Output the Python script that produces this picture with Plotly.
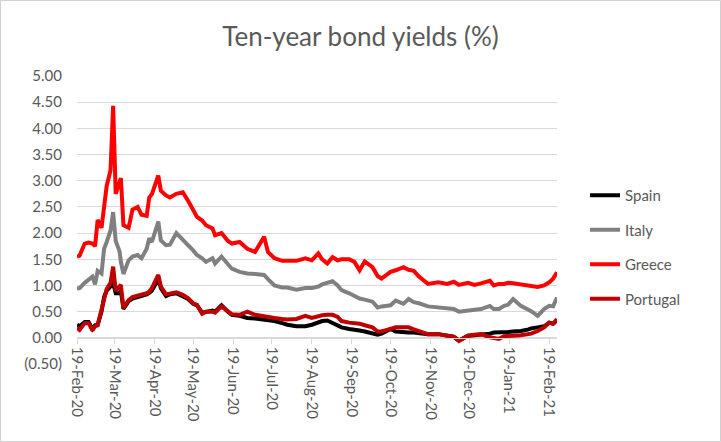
import plotly.graph_objects as go

dates = [
    "2020-02-19", "2020-02-21", "2020-02-25", "2020-02-28", "2020-03-02", "2020-03-04",
    "2020-03-06", "2020-03-09", "2020-03-11", "2020-03-13", "2020-03-16", "2020-03-18",
    "2020-03-20", "2020-03-23", "2020-03-24", "2020-03-26", "2020-03-30", "2020-04-02",
    "2020-04-06", "2020-04-09", "2020-04-13", "2020-04-15", "2020-04-17", "2020-04-22",
    "2020-04-24", "2020-04-28", "2020-05-01", "2020-05-06", "2020-05-11", "2020-05-15",
    "2020-05-19", "2020-05-22", "2020-05-26", "2020-05-29", "2020-06-03", "2020-06-05",
    "2020-06-10", "2020-06-15", "2020-06-18", "2020-06-24", "2020-06-30", "2020-07-06",
    "2020-07-13", "2020-07-16", "2020-07-21", "2020-07-27", "2020-07-31", "2020-08-07",
    "2020-08-14", "2020-08-19", "2020-08-24", "2020-08-27", "2020-08-31", "2020-09-04",
    "2020-09-08", "2020-09-11", "2020-09-17", "2020-09-21", "2020-09-25", "2020-09-29",
    "2020-10-05", "2020-10-09", "2020-10-12", "2020-10-19", "2020-10-23", "2020-10-29",
    "2020-11-02", "2020-11-06", "2020-11-10", "2020-11-17", "2020-11-25", "2020-12-02",
    "2020-12-07", "2020-12-11", "2020-12-18", "2020-12-23", "2020-12-28", "2021-01-04",
    "2021-01-07", "2021-01-11", "2021-01-15", "2021-01-18", "2021-01-22", "2021-01-28",
    "2021-02-03", "2021-02-05", "2021-02-10", "2021-02-15", "2021-02-19", "2021-02-22",
    "2021-02-25",
]

greece = [
    1.55, 1.57, 1.80, 1.82, 1.80, 1.75,
    2.25, 2.10, 2.50, 2.90, 3.20, 4.43,
    2.75, 2.95, 3.05, 2.15, 2.10, 2.45,
    2.50, 2.35, 2.33, 2.68, 2.74, 3.10,
    2.81, 2.72, 2.68, 2.75, 2.78, 2.62,
    2.45, 2.31, 2.24, 2.15, 2.09, 1.96,
    2.00, 1.85, 1.80, 1.83, 1.70, 1.64,
    1.93, 1.64, 1.52, 1.47, 1.47, 1.47,
    1.52, 1.48, 1.61, 1.50, 1.42, 1.54,
    1.48, 1.50, 1.50, 1.45, 1.29, 1.46,
    1.35, 1.18, 1.13, 1.26, 1.29, 1.35,
    1.30, 1.28, 1.17, 1.03, 1.06, 1.03,
    1.07, 1.01, 1.05, 1.01, 1.04, 1.09,
    1.00, 1.03, 1.03, 1.05, 1.04, 1.02,
    1.00, 0.98, 0.97, 1.00, 1.06, 1.13,
    1.25,
]

italy = [
    0.94, 0.95, 1.05, 1.10, 1.17, 1.02,
    1.28, 1.23, 1.70, 1.83, 2.05, 2.40,
    1.85, 1.65, 1.45, 1.22, 1.48, 1.55,
    1.58, 1.52, 1.70, 1.90, 1.83, 2.22,
    1.86, 1.77, 1.78, 2.00, 1.86, 1.77,
    1.67, 1.58, 1.52, 1.45, 1.52, 1.42,
    1.55, 1.42, 1.32, 1.26, 1.23, 1.22,
    1.20, 1.12, 1.00, 0.96, 0.96, 0.92,
    0.95, 0.95, 0.98, 1.02, 1.05, 1.08,
    1.00, 0.91, 0.85, 0.80, 0.75, 0.73,
    0.69, 0.58, 0.60, 0.62, 0.71, 0.65,
    0.74, 0.68, 0.66, 0.60, 0.58, 0.58,
    0.55, 0.50, 0.52, 0.55, 0.55, 0.61,
    0.55, 0.55, 0.61, 0.63, 0.74, 0.61,
    0.53, 0.51, 0.42, 0.55, 0.61, 0.60,
    0.77,
]

spain = [
    0.25, 0.22, 0.30, 0.30, 0.17, 0.24,
    0.25, 0.50, 0.78, 0.90, 0.98, 1.05,
    0.85, 0.85, 0.90, 0.55, 0.70, 0.75,
    0.78, 0.80, 0.83, 0.86, 0.90, 1.12,
    0.95, 0.80, 0.83, 0.85, 0.80, 0.74,
    0.65, 0.62, 0.48, 0.50, 0.52, 0.50,
    0.62, 0.50, 0.44, 0.42, 0.38, 0.37,
    0.35, 0.35, 0.32, 0.28, 0.25, 0.22,
    0.22, 0.25, 0.30, 0.32, 0.33, 0.28,
    0.24, 0.20, 0.17, 0.16, 0.14, 0.12,
    0.08, 0.06, 0.08, 0.17, 0.12, 0.10,
    0.10, 0.10, 0.09, 0.07, 0.07, 0.05,
    0.02, -0.05, 0.04, 0.05, 0.06, 0.08,
    0.10, 0.10, 0.10, 0.11, 0.12, 0.13,
    0.16, 0.18, 0.20, 0.22, 0.29, 0.27,
    0.33,
]

portugal = [
    0.19, 0.15, 0.28, 0.28, 0.14, 0.22,
    0.24, 0.55, 0.80, 0.93, 1.05, 1.36,
    0.90, 0.97, 1.01, 0.57, 0.72, 0.78,
    0.80, 0.82, 0.85, 0.88, 0.95, 1.20,
    0.98, 0.83, 0.85, 0.87, 0.82, 0.76,
    0.66, 0.63, 0.46, 0.50, 0.50, 0.48,
    0.60, 0.50, 0.45, 0.44, 0.50, 0.44,
    0.42, 0.40, 0.38, 0.36, 0.35, 0.36,
    0.42, 0.38, 0.42, 0.43, 0.44, 0.44,
    0.40, 0.32, 0.29, 0.28, 0.27, 0.24,
    0.20, 0.12, 0.12, 0.17, 0.20, 0.20,
    0.20, 0.16, 0.13, 0.07, 0.07, 0.04,
    0.02, -0.06, 0.04, 0.06, 0.07, 0.01,
    -0.01, -0.02, 0.03, 0.04, 0.04, 0.05,
    0.07, 0.08, 0.13, 0.20, 0.29, 0.27,
    0.36,
]

series_names = ["Spain", "Italy", "Greece", "Portugal"]
series_colors = ["#000000", "#808080", "#FF0000", "#C00000"]

tick_dates = [
    "2020-02-19", "2020-03-19", "2020-04-19", "2020-05-19", "2020-06-19", "2020-07-19",
    "2020-08-19", "2020-09-19", "2020-10-19", "2020-11-19", "2020-12-19", "2021-01-19",
    "2021-02-19",
]
tick_labels = [
    "19-Feb-20", "19-Mar-20", "19-Apr-20", "19-May-20", "19-Jun-20", "19-Jul-20",
    "19-Aug-20", "19-Sep-20", "19-Oct-20", "19-Nov-20", "19-Dec-20", "19-Jan-21",
    "19-Feb-21",
]
y_ticks = [-0.5, 0.0, 0.5, 1.0, 1.5, 2.0, 2.5, 3.0, 3.5, 4.0, 4.5, 5.0]
y_labels = ["(0.50)", "0.00", "0.50", "1.00", "1.50", "2.00", "2.50",
            "3.00", "3.50", "4.00", "4.50", "5.00"]

FONT = "Lato"
TXT = "#595959"
GRID = "#D9D9D9"

W, H = 721, 442
ML, MR, MT, MB = 77, 164, 76, 78
PW, PH = W - ML - MR, H - MT - MB

fig = go.Figure()
for name, vals, color in zip(series_names, [spain, italy, greece, portugal], series_colors):
    fig.add_trace(go.Scatter(
        x=dates, y=vals, mode="lines", name=name, legendgroup=name,
        line=dict(color=color, width=4),
    ))

fig.update_layout(
    width=W, height=H,
    margin=dict(l=ML, r=MR, t=MT, b=MB, pad=0, autoexpand=False),
    paper_bgcolor="white", plot_bgcolor="white",
    font=dict(family=FONT, color=TXT),
    title=dict(text="Ten-year bond yields (%)", x=0.5, xref="container", xanchor="center",
               y=1 - 37 / H, yref="container", yanchor="middle",
               font=dict(family=FONT, size=26, color=TXT)),
    showlegend=True,
    legend=dict(xref="container", yref="container", x=585 / W, y=1 - 179 / H,
                xanchor="left", yanchor="top", traceorder="grouped", tracegroupgap=12,
                font=dict(family=FONT, size=15, color=TXT), bgcolor="rgba(0,0,0,0)"),
    xaxis=dict(
        type="date", range=["2020-02-19", "2021-02-25"],
        tickvals=tick_dates, ticktext=tick_labels, tickangle=90,
        tickfont=dict(family=FONT, size=15, color=TXT),
        showgrid=False, zeroline=False, automargin=False,
        showline=True, linecolor=GRID, linewidth=1,
        ticks="outside", ticklen=5, tickcolor=GRID, tickwidth=1,
        anchor="free", position=0.5 / 5.5,
    ),
    yaxis=dict(
        range=[-0.5, 5.0], tickvals=y_ticks, ticktext=y_labels,
        tickfont=dict(family=FONT, size=15, color=TXT), automargin=False,
        showgrid=True, gridcolor=GRID, gridwidth=1,
        zeroline=False, showline=False, ticks="", ticklabelstandoff=14,
    ),
    shapes=[dict(type="rect", xref="paper", yref="paper",
                 x0=(0.5 - ML) / PW, x1=(W - 0.5 - ML) / PW,
                 y0=-(MB - 0.5) / PH, y1=1 + (MT - 0.5) / PH,
                 line=dict(color="#D0D0D0", width=1), fillcolor="rgba(0,0,0,0)", layer="below")],
)

fig.write_html("out.html", config={"displayModeBar": False},
               post_script="document.body.style.margin='0px';document.body.style.overflow='hidden';")
